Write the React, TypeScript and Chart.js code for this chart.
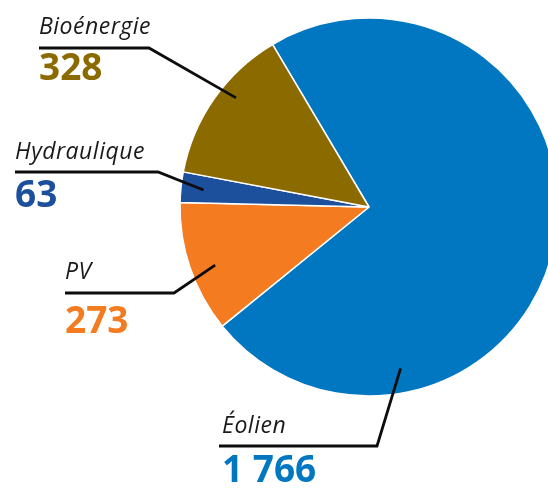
import React, { useEffect, useRef } from "react";
import { Chart, registerables } from "chart.js";

Chart.register(...registerables);

// ---- Data ----
const categories: string[] = ["Éolien", "PV", "Hydraulique", "Bioénergie"];
const values: number[] = [1766, 273, 63, 328];
const sliceColors: string[] = ["#0077C0", "#F47B20", "#1C4F9C", "#8B6A00"];

// ---- Label layout (annotation placement, not data) ----
type LabelLayout = {
  textX: number;
  nameY: number;
  ruleY: number;
  ruleX0: number;
  ruleX1: number;
  valueY: number;
  angleFrac: number;
  radiusFrac: number;
};
const labelLayouts: LabelLayout[] = [
  { textX: 222, nameY: 433, ruleY: 446, ruleX0: 219, ruleX1: 377, valueY: 482, angleFrac: 0.763, radiusFrac: 0.87 },
  { textX: 65, nameY: 279, ruleY: 293, ruleX0: 65, ruleX1: 174, valueY: 333, angleFrac: 0.455, radiusFrac: 0.87 },
  { textX: 15, nameY: 159, ruleY: 172, ruleX0: 15, ruleX1: 158, valueY: 207, angleFrac: 0.48, radiusFrac: 0.88 },
  { textX: 39, nameY: 34, ruleY: 48, ruleX0: 39, ruleX1: 149, valueY: 80, angleFrac: 0.59, radiusFrac: 0.91 },
];

const formatValue = (v: number): string =>
  String(v).replace(/\B(?=(\d{3})+(?!\d))/g, " ");

const leaderLabels = {
  id: "leaderLabels",
  afterDatasetsDraw(chart: any) {
    const ctx = chart.ctx as any;
    const meta = chart.getDatasetMeta(0);
    ctx.save();
    meta.data.forEach((arc: any, i: number) => {
      const lay = labelLayouts[i];
      if (!lay) return;
      const p = arc.getProps(["x", "y", "startAngle", "endAngle", "outerRadius"], true);
      const a = p.startAngle + lay.angleFrac * (p.endAngle - p.startAngle);
      const r = p.outerRadius * lay.radiusFrac;
      const ix = p.x + Math.cos(a) * r;
      const iy = p.y + Math.sin(a) * r;

      ctx.beginPath();
      ctx.moveTo(lay.ruleX0, lay.ruleY);
      ctx.lineTo(lay.ruleX1, lay.ruleY);
      ctx.lineTo(ix, iy);
      ctx.lineWidth = 2.8;
      ctx.strokeStyle = "#0d0d0d";
      ctx.lineJoin = "miter";
      ctx.lineCap = "butt";
      ctx.stroke();

      ctx.textAlign = "left";
      ctx.textBaseline = "alphabetic";
      ctx.fillStyle = "#1a1a1a";
      ctx.letterSpacing = "0.5px";
      ctx.font = "italic 23px 'Open Sans'";
      ctx.fillText(categories[i], lay.textX, lay.nameY);

      ctx.letterSpacing = "0px";
      ctx.fillStyle = sliceColors[i];
      ctx.font = "bold 37px 'Open Sans'";
      ctx.fillText(formatValue(values[i]), lay.textX, lay.valueY);
    });
    ctx.restore();
  },
};

export default function App() {
  const canvasRef = useRef<HTMLCanvasElement | null>(null);

  useEffect(() => {
    const canvas = canvasRef.current;
    if (!canvas) return;
    const chart = new Chart(canvas, {
      type: "pie",
      data: {
        labels: categories,
        datasets: [
          {
            data: values,
            backgroundColor: sliceColors,
            borderColor: "#ffffff",
            borderWidth: 1.5,
            clip: false as any,
          },
        ],
      },
      options: {
        responsive: false,
        animation: false,
        rotation: -30.7,
        radius: 189,
        layout: { padding: { left: 180, right: 42, top: 18, bottom: 92 } },
        plugins: {
          legend: { display: false },
          tooltip: { enabled: false },
          title: { display: false },
        },
        events: [],
      },
      plugins: [leaderLabels],
    });
    return () => chart.destroy();
  }, []);

  return (
    <div
      style={{
        position: "fixed",
        left: 0,
        top: 0,
        width: 548,
        height: 488,
        overflow: "hidden",
        background: "#ffffff",
      }}
    >
      <canvas
        ref={canvasRef}
        width={600}
        height={488}
        style={{ width: 600, height: 488, display: "block" }}
      />
    </div>
  );
}
